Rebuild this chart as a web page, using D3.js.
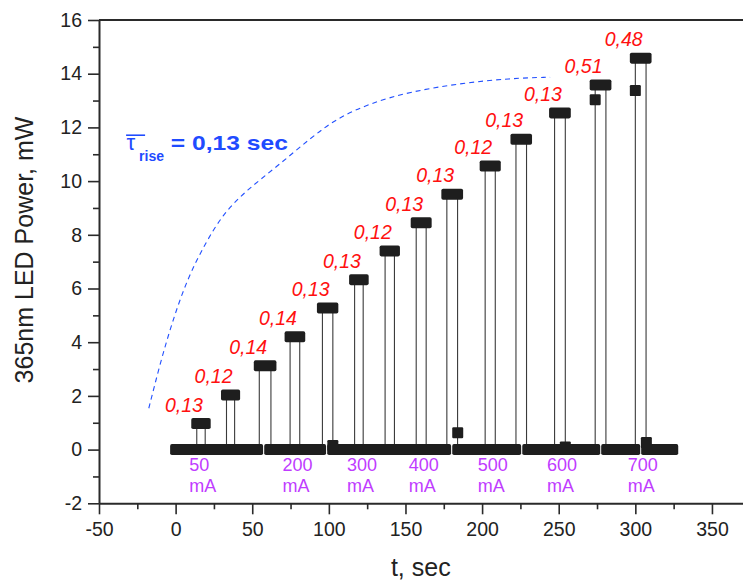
<!DOCTYPE html>
<html>
<head>
<meta charset="utf-8">
<script src="https://cdn.jsdelivr.net/npm/d3@7"></script>
<style>
  body { margin: 0; background: #fff; }
  svg { display: block; }
  text { font-family: "Liberation Sans", Arial, Helvetica, sans-serif; }
</style>
</head>
<body>
<svg id="chart" width="743" height="585"></svg>
<script>
// LED drive pulses: switch-on time, switch-off time (s) and optical power on the plateau (mW)
const pulseRise  = [13.8, 33.2, 54.6, 74.7, 95.8, 116.8, 136.7, 157.0, 177.0, 202.0, 222.1, 247.3, 273.8, 300.0];
const pulseFall  = [19.3, 38.5, 62.2, 81.0, 102.6, 122.4, 142.8, 163.5, 184.0, 208.6, 229.0, 254.3, 280.8, 307.0];
const pulseLevel = [0.97, 2.03, 3.12, 4.20, 5.27, 6.33, 7.40, 8.45, 9.51, 10.56, 11.56, 12.54, 13.58, 14.58];
// measured rise time of each pulse, s
const riseTimeLabels = ["0,13", "0,12", "0,14", "0,14", "0,13", "0,13", "0,12", "0,13", "0,13", "0,12", "0,13", "0,13", "0,51", "0,48"];

// dark (zero power) recording segments, s
const darkStart = [0, 61.4, 102.5, 184.1, 229.8, 281.3, 307.4];
const darkEnd   = [53.5, 94.6, 176.2, 221.9, 273.5, 299.6, 324.4];

// single samples caught during switching transients
const transientT = [273.8, 300.0, 102.6, 184.1, 254.3, 307.2];
const transientP = [13.03, 13.37, 0.15, 0.63, 0.10, 0.26];

// drive current annotations and the pulse each belongs to
const driveCurrent = ["50", "200", "300", "400", "500", "600", "700"];
const currentPulse = [0, 3, 5, 7, 9, 11, 13];

// guide curve of the plateau envelope
const envelopeT = [-17.5, -10.1, -2.5, 7.3, 19.3, 31.2, 46.5, 66.1, 87.8, 105.2, 127.0, 153.1, 185.7, 218.3, 244.4];
const envelopeP = [1.54, 3.21, 4.70, 6.32, 7.68, 8.80, 9.67, 10.54, 11.59, 12.34, 12.90, 13.33, 13.64, 13.83, 13.87];

// axis ticks
const xMajor = [-50, 0, 50, 100, 150, 200, 250, 300, 350];
const xMinor = [-25, 25, 75, 125, 175, 225, 275, 325];
const yMajor = [-2, 0, 2, 4, 6, 8, 10, 12, 14, 16];
const yMinor = [-1, 1, 3, 5, 7, 9, 11, 13, 15];

const svg = d3.select("#chart");
const x = d3.scaleLinear().domain([-50, 370]).range([99, 742.6]);
const y = d3.scaleLinear().domain([-2, 16]).range([503.3, 20]);

const ink = "#1e1e1e";
const half = 5.5; // half size of a sample marker
const plain = d => String(d); // hyphen-minus for negative ticks

// frame top line
svg.append("line")
  .attr("x1", x(-50)).attr("x2", 743)
  .attr("y1", y(16)).attr("y2", y(16))
  .attr("stroke", "#2a2a2a").attr("stroke-width", 2);

// axes
function styleAxis(g) {
  g.selectAll("path.domain").attr("stroke", "#2a2a2a").attr("stroke-width", 2);
  g.selectAll(".tick line").attr("stroke", "#2a2a2a").attr("stroke-width", 1.6);
  g.selectAll(".tick text").attr("fill", "#222").attr("font-size", 19.5)
    .attr("font-family", "'Liberation Sans', Arial, sans-serif");
}
const gx = svg.append("g").attr("transform", `translate(0,${y(-2)})`)
  .call(d3.axisBottom(x).tickValues(xMajor).tickSize(11).tickPadding(8).tickSizeOuter(0).tickFormat(plain));
styleAxis(gx);
const gxm = svg.append("g").attr("transform", `translate(0,${y(-2)})`)
  .call(d3.axisBottom(x).tickValues(xMinor).tickSize(6).tickFormat(""));
gxm.select("path.domain").remove();
styleAxis(gxm);

const gy = svg.append("g").attr("transform", `translate(${x(-50)},0)`)
  .call(d3.axisLeft(y).tickValues(yMajor).tickSize(11).tickPadding(6).tickSizeOuter(0).tickFormat(plain));
styleAxis(gy);
const gym = svg.append("g").attr("transform", `translate(${x(-50)},0)`)
  .call(d3.axisLeft(y).tickValues(yMinor).tickSize(6).tickFormat(""));
gym.select("path.domain").remove();
styleAxis(gym);

// axis titles
svg.append("text")
  .attr("x", (x(-50) + x(370)) / 2).attr("y", 576)
  .attr("text-anchor", "middle").attr("font-size", 25).attr("fill", "#222")
  .text("t, sec");
svg.append("text")
  .attr("transform", `translate(33,250) rotate(-90)`)
  .attr("text-anchor", "middle").attr("font-size", 25).attr("fill", "#222")
  .text("365nm LED Power, mW");

// envelope guide curve
const envelope = envelopeT.map((t, i) => [t, envelopeP[i]]);
svg.append("path")
  .datum(envelope)
  .attr("fill", "none")
  .attr("stroke", "#2250ff").attr("stroke-width", 1.1)
  .attr("stroke-dasharray", "5,4")
  .attr("d", d3.line().x(d => x(d[0])).y(d => y(d[1])).curve(d3.curveBasis));

// switching edges
const pulses = pulseRise.map((r, i) => ({ rise: r, fall: pulseFall[i], level: pulseLevel[i], label: riseTimeLabels[i] }));
const edges = svg.append("g").attr("stroke", "#3a3a3a").attr("stroke-width", 1.1);
pulses.forEach(p => {
  [p.rise, p.fall].forEach(t => {
    edges.append("line")
      .attr("x1", x(t)).attr("x2", x(t))
      .attr("y1", y(0)).attr("y2", y(p.level));
  });
});

// dark segments (dense samples at zero)
const dark = darkStart.map((s, i) => ({ s, e: darkEnd[i] }));
svg.append("g").selectAll("rect").data(dark).join("rect")
  .attr("x", d => x(d.s) - half)
  .attr("width", d => x(d.e) - x(d.s) + 2 * half)
  .attr("y", y(0) - half).attr("height", 2 * half)
  .attr("rx", 1.8).attr("fill", ink);

// transient samples
svg.append("g").selectAll("rect").data(transientT.map((t, i) => [t, transientP[i]])).join("rect")
  .attr("x", d => x(d[0]) - half).attr("y", d => y(d[1]) - half)
  .attr("width", 2 * half).attr("height", 2 * half)
  .attr("rx", 1.2).attr("fill", ink);

// plateaus
svg.append("g").selectAll("rect").data(pulses).join("rect")
  .attr("x", d => x(d.rise) - half)
  .attr("width", d => x(d.fall) - x(d.rise) + 2 * half)
  .attr("y", d => y(d.level) - half).attr("height", 2 * half)
  .attr("rx", 1.8).attr("fill", ink);

// rise time labels
svg.append("g").selectAll("text").data(pulses).join("text")
  .attr("x", d => x((d.rise + d.fall) / 2) - 17)
  .attr("y", d => y(d.level) - half - 6.5)
  .attr("text-anchor", "middle")
  .attr("font-size", 19.5).attr("font-style", "italic")
  .attr("fill", "#ff1010")
  .text(d => d.label);

// drive current labels
const cur = svg.append("g").attr("fill", "#bf3cff").attr("font-size", 18);
driveCurrent.forEach((c, i) => {
  const x0 = x(pulseRise[currentPulse[i]]) - 7.5;
  const t = cur.append("text").attr("x", x0).attr("y", 470.7);
  t.append("tspan").attr("x", x0).text(c);
  t.append("tspan").attr("x", x0).attr("dy", 21.5).text("mA");
});

// mean rise time annotation
const ax = x(-32), ay = y(11.15);
const note = svg.append("g").attr("fill", "#1f4bff");
note.append("text").attr("x", ax).attr("y", ay).attr("font-size", 22).text("τ");
note.append("line")
  .attr("x1", ax - 0.5).attr("x2", ax + 18.5)
  .attr("y1", ay - 15).attr("y2", ay - 15)
  .attr("stroke", "#1f4bff").attr("stroke-width", 1.6);
note.append("text").attr("x", ax + 12.5).attr("y", ay + 11)
  .attr("font-size", 14).attr("font-weight", "bold").text("rise");
note.append("text").attr("x", ax + 44.3).attr("y", ay)
  .attr("font-size", 21).attr("font-weight", "bold")
  .attr("textLength", 117).attr("lengthAdjust", "spacingAndGlyphs")
  .text("= 0,13 sec");
</script>
</body>
</html>
